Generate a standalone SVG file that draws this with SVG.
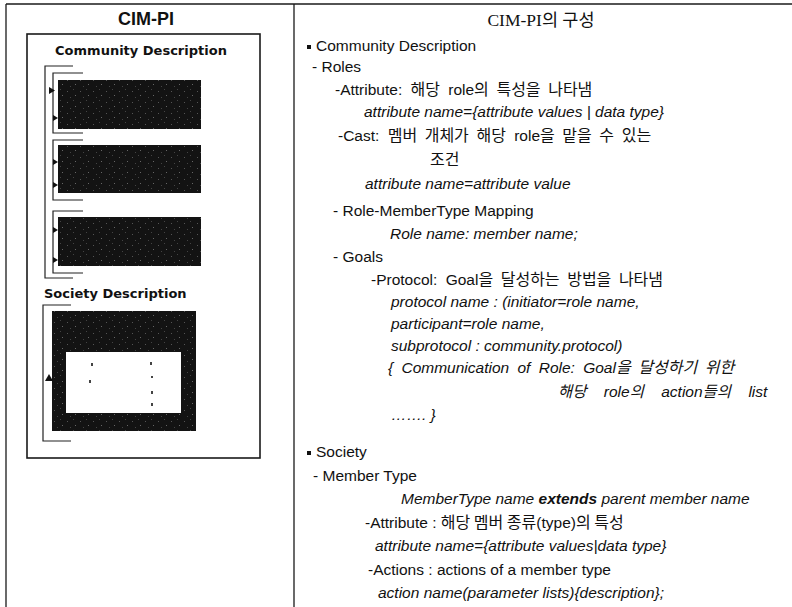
<svg xmlns="http://www.w3.org/2000/svg" width="792" height="607" viewBox="0 0 792 607">
  <defs>
    <style>
      .frame { stroke: #1a1a1a; stroke-width: 1.3; fill: none; }
      .box { stroke: #1a1a1a; stroke-width: 1.6; fill: #fff; }
      .dark { fill: url(#grain); }
      .brk { stroke: #222; stroke-width: 1.2; fill: none; }
      .tri { fill: #111; }
      .hdr { font-family: "Liberation Sans", Arial, sans-serif; font-weight: bold; font-size: 18px; fill: #111; }
      .sub { font-family: "DejaVu Sans", sans-serif; font-weight: bold; font-size: 13px; fill: #111; }
      .ttl { font-family: "Liberation Serif", "Noto Sans CJK KR", serif; font-size: 17.5px; fill: #111; }
      .t { font-family: "Liberation Sans", "Noto Sans CJK KR", Arial, sans-serif; font-size: 15.5px; fill: #111; }
      .i { font-style: italic; }
      .b { font-weight: bold; }
      .k { font-family: "Noto Sans CJK KR", sans-serif; font-size: 16px; }
      .ws { word-spacing: 4px; }
    </style>
    <!-- speckled dark fill for the screenshot panels -->
    <pattern id="grain" width="13" height="11" patternUnits="userSpaceOnUse">
      <rect width="13" height="11" fill="#131313"/>
      <rect x="2" y="3" width="1" height="1" fill="#555"/>
      <rect x="8" y="1" width="1" height="1" fill="#444"/>
      <rect x="10" y="7" width="1" height="1" fill="#666"/>
      <rect x="5" y="9" width="1" height="1" fill="#444"/>
    </pattern>
  </defs>

  <!-- table frame -->
  <g id="table-frame">
    <line class="frame" x1="6" y1="4" x2="792" y2="4"/>
    <line class="frame" x1="6" y1="4" x2="6" y2="607"/>
    <line class="frame" x1="294" y1="4" x2="294" y2="607"/>
  </g>

  <!-- left column: CIM-PI structure sketch -->
  <g id="left-header">
    <text class="hdr" x="146" y="25" text-anchor="middle">CIM-PI</text>
  </g>

  <g id="cim-pi-panel">
    <rect class="box" x="27" y="34" width="233" height="424"/>
    <text class="sub" x="141" y="55" text-anchor="middle">Community Description</text>
    <text class="sub" x="44" y="298">Society Description</text>
  </g>

  <g id="community-blocks">
    <rect class="dark" x="58" y="80" width="143" height="49"/>
    <rect class="dark" x="58" y="145" width="143" height="48"/>
    <rect class="dark" x="58" y="217" width="143" height="49"/>
  </g>

  <g id="society-block">
    <rect class="dark" x="52" y="311" width="144" height="120"/>
    <rect x="66" y="352" width="115" height="61" fill="#fff"/>
    <g fill="#444">
      <rect x="91" y="363" width="2" height="3"/>
      <rect x="89" y="380" width="2" height="3"/>
      <rect x="150" y="362" width="2" height="3"/>
      <rect x="151" y="376" width="2" height="2"/>
      <rect x="151" y="391" width="2" height="3"/>
      <rect x="151" y="403" width="2" height="3"/>
    </g>
  </g>

  <g id="connectors">
    <!-- outer bracket around the community blocks -->
    <polyline class="brk" points="73,66 45,66 45,278 73,278"/>
    <!-- per-block brackets -->
    <polyline class="brk" points="83,73 53,73 53,133 83,133"/>
    <polyline class="brk" points="83,140 53,140 53,200 83,200"/>
    <polyline class="brk" points="83,211 53,211 53,273 83,273"/>
    <!-- society bracket -->
    <polyline class="brk" points="71,305 43,305 43,441 71,441"/>
    <!-- arrowheads -->
    <polygon class="tri" points="49,87 55,90.5 49,94"/>
    <polygon class="tri" points="53,115 58,118 53,121"/>
    <polygon class="tri" points="53,159 58,162 53,165"/>
    <polygon class="tri" points="53,182 58,185 53,188"/>
    <polygon class="tri" points="53,227 58,230 53,233"/>
    <polygon class="tri" points="53,257 58,260 53,263"/>
    <polygon class="tri" points="49,374 45,381 53,381"/>
  </g>

  <!-- right column: description of the parts -->
  <g id="right-header">
    <text class="ttl" x="541" y="26" text-anchor="middle">CIM-PI의 구성</text>
  </g>

  <g id="community-text">
    <rect x="307" y="45" width="4" height="4" fill="#111"/>
    <text class="t" x="316" y="51">Community Description</text>
    <text class="t" x="312" y="72">- Roles</text>
    <text class="t ws" x="335" y="95">-Attribute: <tspan class="k">해당</tspan> role<tspan class="k">의 특성을 나타냄</tspan></text>
    <text class="t i" x="364" y="117">attribute name={attribute values | data type}</text>
    <text class="t ws" x="338" y="141">-Cast: <tspan class="k">멤버 개체가 해당</tspan> role<tspan class="k">을 맡을 수 있는</tspan></text>
    <text class="t k" x="430" y="165">조건</text>
    <text class="t i" x="365" y="189">attribute name=attribute value</text>
    <text class="t" x="333" y="216">- Role-MemberType Mapping</text>
    <text class="t i" x="390" y="239">Role name: member name;</text>
    <text class="t" x="333" y="262">- Goals</text>
    <text class="t ws" x="371" y="285">-Protocol: Goal<tspan class="k">을 달성하는 방법을 나타냄</tspan></text>
    <text class="t i" x="391" y="307">protocol name : (initiator=role name,</text>
    <text class="t i" x="391" y="329">participant=role name,</text>
    <text class="t i" x="391" y="351">subprotocol : community.protocol)</text>
    <text class="t i ws" x="388" y="373">{ Communication of Role: Goal<tspan class="k">을  달성하기 위한</tspan></text>
    <text class="t i" x="558" y="397" style="word-spacing:13px">해당 role의 action들의 list</text>
    <text class="t i" x="391" y="420">……. }</text>
  </g>

  <g id="society-text">
    <rect x="307" y="451" width="4" height="4" fill="#111"/>
    <text class="t" x="316" y="457">Society</text>
    <text class="t" x="313" y="481">- Member Type</text>
    <text class="t i" x="401" y="504">MemberType name <tspan class="b">extends</tspan> parent member name</text>
    <text class="t" x="365" y="528">-Attribute : <tspan class="k">해당 멤버 종류</tspan>(type)<tspan class="k">의 특성</tspan></text>
    <text class="t i" x="375" y="551">attribute name={attribute values|data type}</text>
    <text class="t" x="368" y="575">-Actions : actions of a member type</text>
    <text class="t i" x="378" y="598">action name(parameter lists){description};</text>
  </g>
</svg>
